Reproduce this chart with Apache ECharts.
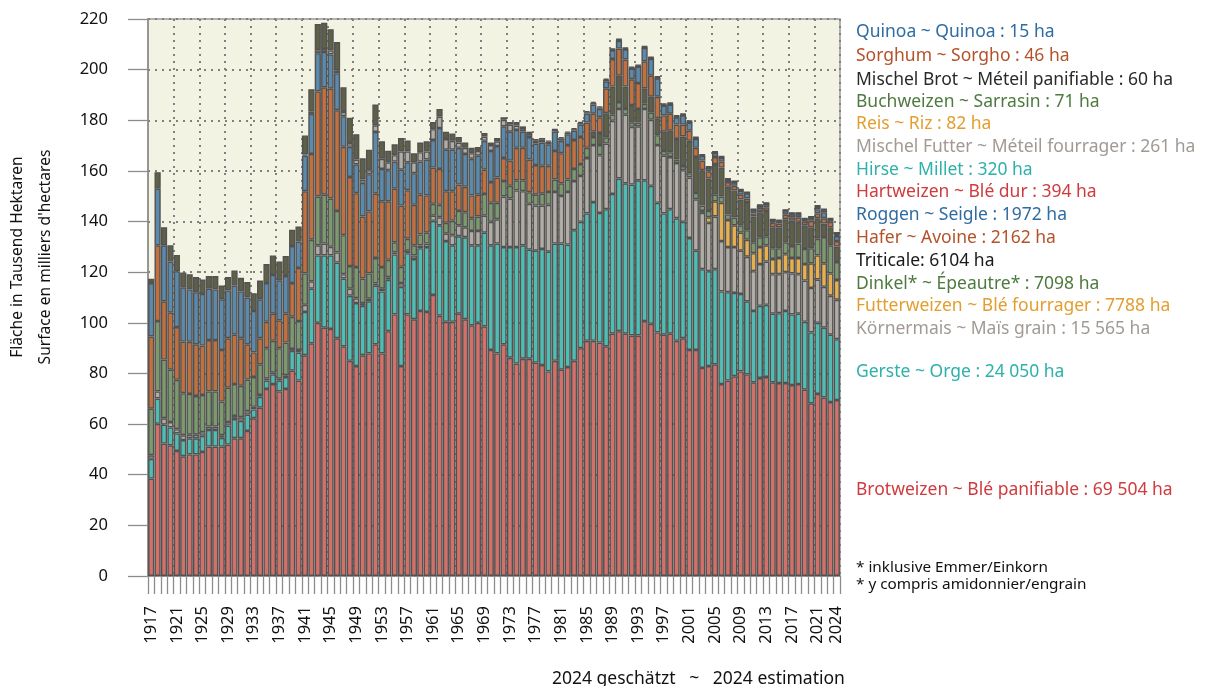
<!DOCTYPE html>
<html>
<head>
<meta charset="utf-8">
<script src="https://cdn.jsdelivr.net/npm/echarts@6/dist/echarts.min.js"></script>
<style>
  html, body { margin: 0; padding: 0; background: #fff; }
  #main { width: 1205px; height: 686px; }
</style>
</head>
<body>
<div id="main"></div>
<script>
// Getreideflächen der Schweiz 1917-2024, in 1000 ha
const years = [];
for (let y = 1917; y <= 2024; y++) years.push(String(y));

const brotweizen = [
  38.5, 60.1, 52.3, 51.6, 49.4, 47.3, 48, 48, 49, 51.1,          // 1917-1926
  51.1, 51.1, 51.9, 54.4, 54.4, 57.3, 62.3, 66.5, 73.9, 75.8,    // 1927-1936
  72.9, 73.9, 81.1, 77.2, 87.2, 91.9, 100, 98.1, 97.6, 93.9,     // 1937-1946
  90.7, 85, 82.9, 87.2, 87.9, 91.5, 87.9, 96.7, 103.3, 82.9,     // 1947-1956
  103.3, 101.4, 104.7, 104.3, 111, 102.8, 100.4, 100.4, 103.6, 101.4, // 1957-1966
  99, 100, 98.6, 89.3, 87.9, 91.5, 86.2, 83.9, 85.8, 85.8,       // 1967-1976
  84.3, 83.3, 80.8, 85, 81.5, 82.5, 85, 90, 92.9, 92.9,          // 1977-1986
  92.2, 90.7, 95.7, 96.7, 95.7, 95, 95, 100.7, 99.6, 96.2,       // 1987-1996
  95.3, 95.7, 92.9, 93.9, 89.3, 89.3, 82.2, 82.9, 83.6, 75.8,    // 1997-2006
  77.2, 78.9, 80.8, 79.6, 76.5, 78.2, 78.6, 76.5, 76.2, 76.2,    // 2007-2016
  75.4, 75.8, 73.6, 68.2, 71.9, 70.5, 68.7, 69.504               // 2017-2024
];
const gerste = [
  7.8, 10, 7.5, 7.1, 6.9, 6.4, 6.4, 6.4, 6.4, 6.6,
  6.6, 3.5, 7.5, 7.6, 6.9, 6.4, 3.5, 4.3, 3.3, 3.8,
  4.3, 4.7, 7.8, 11, 17.1, 21.6, 26.6, 28.5, 29, 29.9,
  26.8, 25.7, 24.9, 19.5, 20.6, 23.2, 24.5, 20.3, 23.7, 31.3,
  24.2, 23.8, 24.8, 25.6, 29.3, 35.7, 31.9, 30.2, 30.6, 32.4,
  31.6, 30.6, 37, 41.3, 43.4, 38.4, 43.7, 46, 44.8, 43.1,
  44.2, 45.9, 47.3, 46.3, 49.8, 48.4, 51.6, 49.9, 50.3, 54.8,
  51.2, 54.2, 55.2, 60.3, 59.4, 59.6, 61.3, 55.6, 54.5, 51.2,
  47.9, 49.2, 48.4, 46, 44.2, 39.2, 39, 37.5, 37.6, 36.6,
  34.9, 32.9, 30.6, 28.9, 28.2, 28.5, 28.5, 27.1, 27.6, 28.5,
  27.9, 27.8, 26.8, 28, 28.1, 27.6, 26.6, 24.05
];
const koernermais = [
  1.4, 2.8, 2.5, 2.1, 1.7, 1.9, 1.4, 1.4, 1.4, 1.3,
  1.3, 1, 1.4, 1.2, 1.4, 1.4, 1, 0.7, 0.7, 0.7,
  0.7, 0.7, 0.8, 1.1, 2.8, 2.9, 4, 4.7, 3.4, 4,
  1.7, 2.8, 1.9, 1.1, 1, 0.9, 1.1, 1, 0.8, 1.5,
  1, 1.4, 1.1, 1.4, 2, 3.2, 2.9, 4, 4.3, 3.9,
  5.7, 5.7, 6.7, 9.3, 9.6, 20, 19.2, 22.4, 21.4, 18.1,
  17.8, 17.1, 18.5, 20.4, 18.8, 20.8, 19.4, 18.1, 21.9, 22.5,
  22.8, 25.9, 28.9, 27.5, 27.1, 22.8, 21.3, 28.2, 26.1, 22.8,
  22.8, 20.6, 21.8, 20.4, 23.9, 20.3, 22.2, 19.1, 20.8, 19.9,
  17.8, 18.1, 17.1, 17.6, 15.7, 16.5, 17.1, 15.6, 15.4, 15.3,
  16.2, 15.6, 16.3, 17.6, 17.1, 16.1, 15.4, 15.565
];
const futterweizen = [
  0, 0, 0, 0, 0, 0, 0, 0, 0, 0,
  0, 0, 0, 0, 0, 0, 0, 0, 0, 0,
  0, 0, 0, 0, 0, 0, 0, 0, 0, 0,
  0, 0, 0, 0, 0, 0, 0, 0, 0, 0,
  0, 0, 0, 0, 0, 0, 0, 0, 0, 0,
  0, 0, 0, 0, 0, 0, 0, 0, 0, 0,
  0, 0, 0, 0, 0, 0, 0, 0, 0, 0,
  0, 0, 0, 0, 0, 0, 0, 0, 0, 0,
  0, 0, 0, 0, 0, 0, 0.8, 2.2, 6, 15.1,
  10.7, 8.6, 7.1, 6.7, 7.1, 6.7, 6.4, 6, 6.4, 7.1,
  6.1, 6.4, 6.5, 9.7, 9.5, 9.3, 8.8, 7.788
];
const dinkel = [
  18.4, 27.8, 23.2, 20.7, 19.5, 16.6, 16.1, 15.3, 14.7, 13.9,
  13.9, 13.3, 13.6, 12.6, 12.4, 12.5, 11.8, 12.1, 12.1, 12.6,
  12.1, 12.9, 12.7, 11.4, 12.4, 16.4, 19.3, 19.3, 19.1, 16.4,
  15.4, 8.9, 12.3, 9.7, 10, 10, 8.5, 6.9, 4, 6.4,
  4.7, 4, 4.3, 4.3, 4.7, 4.9, 4.3, 5.7, 5.7, 6,
  5, 5.7, 8.6, 7.5, 6.5, 6.1, 5, 4, 4.3, 4.6,
  4.3, 4.7, 5.1, 4.9, 5, 4.9, 4.8, 4.7, 4, 3.2,
  4, 2.5, 2.4, 2.7, 2.3, 1.8, 1.5, 2, 2.8, 3.9,
  1.9, 1.9, 1.4, 1.6, 1.7, 2.5, 2.1, 2.5, 2.6, 2.5,
  2.2, 3.1, 2.9, 3.8, 4.3, 3.9, 3.6, 4.3, 3.9, 4.7,
  4.7, 5.7, 6, 6, 6.6, 10.4, 11.1, 7.098
];
const triticale = [
  0, 0, 0, 0, 0, 0, 0, 0, 0, 0,
  0, 0, 0, 0, 0, 0, 0, 0, 0, 0,
  0, 0, 0, 0, 0, 0, 0, 0, 0, 0,
  0, 0, 0, 0, 0, 0, 0, 0, 0, 0,
  0, 0, 0, 0, 0, 0, 0, 0, 0, 0,
  0, 0, 0, 0, 0, 0, 0, 0, 0, 0,
  0, 0, 0, 0, 0, 0, 0, 0, 0, 2.1,
  4.8, 9.5, 11.1, 10.4, 8.8, 6.8, 5.4, 6.1, 6.3, 6.7,
  7.6, 8.5, 8.1, 11.7, 12.8, 14.2, 14, 12.8, 12.1, 11.4,
  10.9, 10.7, 10.2, 11.1, 10.2, 9.9, 10, 8.2, 8.2, 9.1,
  10, 8.6, 9.3, 8.2, 8.1, 5.3, 7.1, 6.104
];
const hafer = [
  28.5, 29.9, 23, 22.5, 20.8, 20.4, 20.6, 20.4, 19.5, 20.3,
  20.3, 20.4, 19.5, 19.5, 18.8, 13.9, 9.7, 10.3, 10.4, 10.7,
  11, 11.4, 13.3, 21, 32.5, 33.9, 41.5, 42.4, 43.4, 39.8,
  34.9, 35.2, 29.2, 24.5, 24.5, 25.4, 26, 23.1, 21.2, 24.2,
  19.2, 16, 15.7, 14.7, 14.3, 14.2, 12.5, 11.7, 10.4, 10,
  9, 8.6, 9.6, 8.2, 10, 9.1, 10, 12.8, 12.8, 12.9,
  11.7, 11, 10.3, 11.3, 11.9, 13.6, 11.4, 10.7, 10, 7.1,
  6.2, 9.8, 10.9, 10.7, 10.7, 10.2, 10.2, 10.7, 8.3, 8.5,
  6.4, 6.7, 5.7, 4.7, 4, 3.6, 3.8, 2.8, 2.8, 2.4,
  1.9, 1.8, 1.9, 1.4, 1.2, 1.2, 1.4, 1.8, 1.5, 1.8,
  1.4, 1.8, 1.4, 2.6, 1.9, 2.1, 2.2, 2.162
];
const roggen = [
  21.1, 22.4, 22.1, 20.2, 22.1, 21.4, 20.7, 20.6, 20.4, 20.3,
  20, 20, 18.9, 19.4, 18.5, 18.5, 16.4, 15.4, 15.3, 15.3,
  15.8, 14.9, 14.6, 10.4, 14, 15.8, 15.1, 14, 13.5, 14.6,
  12.1, 11.9, 11.4, 13.3, 14.7, 24.4, 12.8, 12.3, 10.7, 14.2,
  11, 12.5, 13.1, 14.2, 10.9, 16.1, 16.4, 16.4, 14.5, 13,
  14.5, 15.4, 11.4, 12.3, 12.4, 12.5, 11.4, 7.1, 6.4, 8.9,
  8.5, 9.2, 8.5, 7.6, 4.9, 4.3, 3.7, 4.9, 3.5, 3.6,
  3.3, 2.8, 3.4, 3.1, 4, 4.2, 6.5, 5.3, 6.7, 7.3,
  3.9, 3.6, 2.9, 3.6, 3.2, 3.6, 1.8, 1.3, 1.6, 1.5,
  0.9, 1.4, 1.6, 2, 1.2, 1.2, 1.3, 0.9, 0.9, 1.4,
  1.2, 1.2, 0.9, 1.2, 1.7, 2.4, 0.9, 1.972
];
const hartweizen = [
  0, 0, 0, 0, 0, 0, 0, 0, 0, 0,
  0, 0, 0, 0, 0, 0, 0, 0, 0, 0,
  0, 0, 0, 0, 0, 0, 0, 0, 0, 0,
  0, 0, 0, 0, 0, 0, 0, 0, 0, 0,
  0, 0, 0, 0, 0, 0, 0, 0, 0, 0,
  0, 0, 0, 0, 0, 0, 0, 0, 0, 0,
  0, 0, 0, 0, 0, 0, 0, 0, 0, 0,
  0, 0, 0.1, 0.1, 0.1, 0.1, 0.1, 0.1, 0.1, 0.1,
  0.1, 0.1, 0.1, 0.1, 0.1, 0.1, 0.1, 0.1, 0.1, 0.1,
  0.1, 0.1, 0.1, 0.1, 0.1, 0.1, 0.1, 0.1, 0.1, 0.1,
  0.1, 0.1, 0.1, 0.1, 1.0, 0.8, 0.1, 0.394
];
const mischelFutter = [
  0, 0, 0, 0, 0, 0, 0, 0, 0, 0,
  0, 0, 0, 0, 0, 0, 0, 0, 0, 0,
  0, 0, 0, 0, 0.5, 1, 1.2, 1.2, 1.6, 1.1,
  1.7, 1.5, 1.9, 1.3, 1.6, 2.6, 4, 3.1, 2.5, 7.2,
  4.3, 4.3, 3.7, 3.2, 4.3, 4.6, 4.2, 3.5, 2.1, 2.4,
  2.2, 1.9, 1.7, 2.3, 1.9, 2.6, 2.8, 1.7, 1, 1.2,
  1.1, 1.1, 1, 0.8, 1, 0.6, 0.6, 0.6, 0.6, 0.6,
  0.6, 0.6, 0.4, 0.4, 0.4, 0.4, 0.4, 0.4, 0.4, 0.4,
  0.4, 0.4, 0.4, 0.4, 0.4, 0.4, 0.35, 0.35, 0.35, 0.35,
  0.3, 0.3, 0.3, 0.3, 0.3, 0.3, 0.3, 0.3, 0.3, 0.3,
  0.3, 0.3, 0.3, 0.3, 0.3, 0.3, 0.3, 0.261
];
const mischelBrot = [
  1.7, 6.5, 7.1, 6.4, 6.4, 5.9, 6, 6, 5.7, 5,
  5.3, 5.4, 5.3, 6, 5.4, 6.1, 7, 7.4, 7.5, 7.7,
  7.4, 7.9, 6.5, 5.9, 7.5, 8.8, 10.3, 10.3, 8.4, 11.2,
  9.7, 10, 10, 8.4, 8.1, 8.2, 6.9, 4.6, 4.3, 5.3,
  4.3, 3.6, 3.8, 4, 2.8, 3, 2.9, 2.9, 2.2, 2.1,
  2.1, 1.5, 1.4, 1, 1.3, 1, 1, 1.4, 1.1, 0.9,
  0.7, 0.7, 0.5, 0.2, 0.5, 0.4, 0.4, 0.4, 0.4, 0.5,
  0.4, 0.4, 0.2, 0.2, 0.2, 0.2, 0.2, 0.2, 0.2, 0.2,
  0.2, 0.2, 0.2, 0.2, 0.2, 0.2, 0.15, 0.15, 0.15, 0.15,
  0.1, 0.1, 0.1, 0.1, 0.1, 0.1, 0.1, 0.1, 0.1, 0.1,
  0.1, 0.1, 0.1, 0.1, 0.1, 0.1, 0.1, 0.06
];
// tiny crops: only the 2024 figure is readable, other years not visible
const hirse = { 2024: 0.32 };
const reis = { 2024: 0.082 };
const buchweizen = { 2024: 0.071 };
const sorghum = { 2024: 0.046 };
const quinoa = { 2024: 0.015 };

const sparse = (obj) => years.map((y) => obj[y] || 0);

// stacking order, bottom to top
const crops = [
  { name: 'Brotweizen ~ Blé panifiable : 69 504 ha', data: brotweizen, color: '#D3706A', text: '#CF3B3E' },
  { name: 'Gerste ~ Orge : 24 050 ha', data: gerste, color: '#4EBDB4', text: '#2EB1AA' },
  { name: 'Körnermais ~ Maïs grain : 15 565 ha', data: koernermais, color: '#B2ACA6', text: '#A19A94' },
  { name: 'Futterweizen ~ Blé fourrager : 7788 ha', data: futterweizen, color: '#E6B04F', text: '#E39E30' },
  { name: 'Dinkel* ~ Épeautre* : 7098 ha', data: dinkel, color: '#7C9A6E', text: '#4F7A3F' },
  { name: 'Triticale: 6104 ha', data: triticale, color: '#5E6148', text: '#1a1a1a' },
  { name: 'Hafer ~ Avoine : 2162 ha', data: hafer, color: '#C3703E', text: '#B4522A' },
  { name: 'Roggen ~ Seigle : 1972 ha', data: roggen, color: '#5A8AAE', text: '#2F6CA2' },
  { name: 'Hartweizen ~ Blé dur : 394 ha', data: hartweizen, color: '#C0514D', text: '#CF3B3E' },
  { name: 'Hirse ~ Millet : 320 ha', data: sparse(hirse), color: '#4EBDB4', text: '#2EB1AA' },
  { name: 'Mischel Futter ~ Méteil fourrager : 261 ha', data: mischelFutter, color: '#B2ACA6', text: '#A19A94' },
  { name: 'Reis ~ Riz : 82 ha', data: sparse(reis), color: '#E6B04F', text: '#E39E30' },
  { name: 'Buchweizen ~ Sarrasin : 71 ha', data: sparse(buchweizen), color: '#7C9A6E', text: '#4F7A3F' },
  { name: 'Mischel Brot ~ Méteil panifiable : 60 ha', data: mischelBrot, color: '#5E6148', text: '#2a2a2a' },
  { name: 'Sorghum ~ Sorgho : 46 ha', data: sparse(sorghum), color: '#C3703E', text: '#B4522A' },
  { name: 'Quinoa ~ Quinoa : 15 ha', data: sparse(quinoa), color: '#5A8AAE', text: '#2F6CA2' }
];

// label rows on the right (centre line), same order as crops
const labelY = [490, 372, 329, 306, 284, 261, 238, 215, 192, 170, 147, 124, 102, 80, 56, 32];

const FONT = '"Noto Sans", "Open Sans", sans-serif';
const chart = echarts.init(document.getElementById('main'));

function txt(x, y, text, size, fill, extra) {
  return Object.assign({
    type: 'text',
    x: x,
    y: y,
    style: {
      text: text, fill: fill, font: size + 'px ' + FONT,
      textAlign: 'left', textVerticalAlign: 'middle', align: 'left', verticalAlign: 'middle'
    }
  }, extra || {});
}

const graphics = crops.map((c, i) => txt(856, labelY[i], c.name, 17.5, c.text));
graphics.push(
  txt(856, 568, '* inklusive Emmer/Einkorn', 15.3, '#111'),
  txt(856, 585, '* y compris amidonnier/engrain', 15.3, '#111'),
  txt(552, 679, '2024 geschätzt   ~   2024 estimation', 17.5, '#111')
);
const yTitle = [
  { x: 18, text: 'Fläche in Tausend Hektaren' },
  { x: 46, text: "Surface en milliers d'hectares" }
];
yTitle.forEach((t) => {
  const g = txt(t.x, 257, t.text, 15.6, '#111', { rotation: Math.PI / 2 });
  g.style.textAlign = 'center';
  g.style.align = 'center';
  graphics.push(g);
});

const option = {
  animation: false,
  backgroundColor: '#ffffff',
  textStyle: { fontFamily: FONT },
  grid: {
    left: 148,
    right: 365,
    top: 19,
    bottom: 110,
    show: true,
    backgroundColor: '#F3F3E3',
    borderColor: '#999999',
    borderWidth: 1.5
  },
  xAxis: {
    type: 'category',
    data: years,
    axisLine: { lineStyle: { color: '#8c8c8c', width: 1.5 } },
    axisTick: { show: true, interval: 0, length: 18, lineStyle: { color: '#8c8c8c', width: 1.3 } },
    axisLabel: {
      rotate: 90,
      margin: 30,
      fontSize: 16.5,
      color: '#111',
      interval: (i) => i % 4 === 0 || i === years.length - 1
    },
    splitLine: {
      show: true,
      interval: (i) => i % 4 === 0 && i > 0,
      lineStyle: { color: '#808080', width: 2, type: [2, 5] }
    }
  },
  yAxis: {
    type: 'value',
    min: 0,
    max: 220,
    interval: 20,
    axisLine: { show: true, lineStyle: { color: '#8c8c8c', width: 1.5 } },
    axisTick: { show: true, length: 20, lineStyle: { color: '#8c8c8c', width: 1.3 } },
    axisLabel: { margin: 40, fontSize: 16.5, color: '#111' },
    splitLine: { show: true, lineStyle: { color: '#808080', width: 2, type: [2, 5] } }
  },
  series: crops.map((c) => ({
    name: c.name,
    type: 'bar',
    stack: 'total',
    barCategoryGap: '3%',
    data: c.data.map((v) => (v > 0 ? v : '-')),
    itemStyle: { color: c.color, borderColor: '#525252', borderWidth: 1.4 }
  })),
  graphic: graphics
};

chart.setOption(option);
</script>
</body>
</html>
